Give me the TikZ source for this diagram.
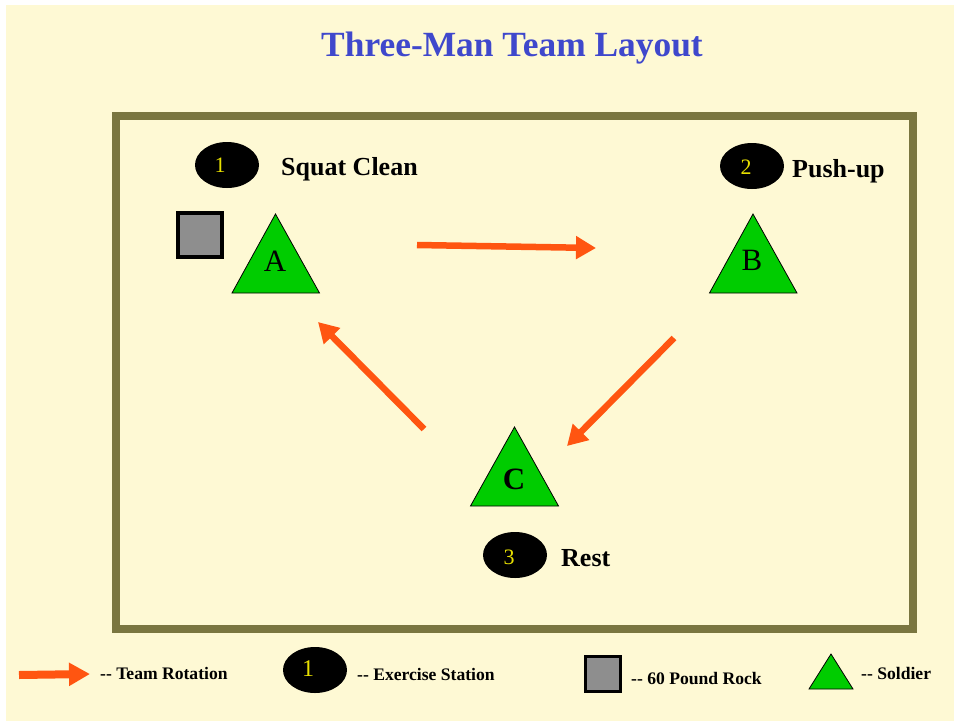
\documentclass[tikz,border=0pt]{standalone}
\usepackage{fontspec}
\setmainfont{Liberation Serif}
\usetikzlibrary{arrows.meta,shapes.geometric}
\definecolor{bgc}{HTML}{FEF9D4}
\definecolor{framec}{HTML}{7A7640}
\definecolor{soldierc}{HTML}{00CC00}
\definecolor{arrowc}{HTML}{FF5511}
\definecolor{rockc}{HTML}{8E8E8E}
\definecolor{titlec}{HTML}{3F48CC}
\definecolor{numc}{HTML}{E8E000}
\tikzset{
  x=1pt,y=-1pt,
  station/.style={ellipse,fill=black,minimum width=64pt,minimum height=46pt,inner sep=0pt},
  stnum/.style={text=numc,inner sep=0pt,font=\fontsize{22}{22}\selectfont},
  rock/.style={draw=black,line width=3.5pt,fill=rockc,minimum size=44pt,inner sep=0pt},
  lbl/.style={font=\bfseries\fontsize{26}{26}\selectfont,inner sep=0pt,anchor=west},
  leg/.style={font=\bfseries\fontsize{17.6}{17.6}\selectfont,inner sep=0pt,anchor=west},
  soldierlbl/.style={font=\fontsize{31}{31}\selectfont,inner sep=0pt},
  soldier/.style={fill=soldierc,draw=black,line width=0.8pt,line join=miter},
  rot/.style={draw=arrowc,line width=6.5pt,-{Triangle[length=20pt,width=22pt]}},
}
\begin{document}
\begin{tikzpicture}
\useasboundingbox (0,0) rectangle (954,721);
\fill[white] (0,0) rectangle (954,721);
\fill[bgc] (6,5) rectangle (954,721);
\draw[framec,line width=8pt] (116,116) rectangle (913,629);
\node[font=\bfseries\fontsize{35.4}{35.4}\selectfont,text=titlec,inner sep=0pt] (title) at (512,48) {Three-Man Team Layout};
% stations
\node[station] (s1) at (227,165) {};
\node[station] (s2) at (752,166) {};
\node[station] (s3) at (515,555) {};
\node[stnum] (n1) at (220,165) {1};
\node[stnum] (n2) at (746,167) {2};
\node[stnum] (n3) at (509,557) {3};
\node[lbl] (t1) at (281,169) {Squat Clean};
\node[lbl] (t2) at (792,171) {Push-up};
\node[lbl] (t3) at (561,558) {Rest};
\node[rock] (r) at (200,235) {};
% soldiers
\path[soldier] (275.5,214) -- (319.5,293) -- (232,293) -- cycle;
\path[soldier] (753,214) -- (797,293) -- (709.5,293) -- cycle;
\path[soldier] (514.5,427) -- (558.5,506) -- (470.5,506) -- cycle;
\node[soldierlbl] (a) at (275,261) {A};
\node[soldierlbl] (b) at (752,260) {B};
\node[soldierlbl] (c) at (514,479) {\textbf{C}};
\coordinate (ab1) at (417,245); \coordinate (ab2) at (596,248);
\coordinate (bc1) at (674,338); \coordinate (bc2) at (567,446);
\coordinate (ca1) at (424,429); \coordinate (ca2) at (318,322);
\draw[rot] (ab1) -- (ab2);
\draw[rot] (bc1) -- (bc2);
\draw[rot] (ca1) -- (ca2);
% legend
\coordinate (l1) at (19,675); \coordinate (l2) at (90,674);
\draw[draw=arrowc,line width=8pt,-{Triangle[length=21pt,width=22pt]}] (l1) -- (l2);
\node[leg] (lt1) at (100,673) {-{}- Team Rotation};
\node[station] (ls) at (315,670) {};
\node[stnum,font=\fontsize{24}{24}\selectfont] (ln) at (308,669) {1};
\node[leg] (lt2) at (357,674) {-{}- Exercise Station};
\node[rock,minimum size=35pt] (lr) at (603,674) {};
\node[leg] (lt3) at (631,678) {-{}- 60 Pound Rock};
\path[soldier] (831,654) -- (853,689) -- (809,689) -- cycle;
\node[leg] (lt4) at (861,673) {-{}- Soldier};
\end{tikzpicture}
\end{document}
